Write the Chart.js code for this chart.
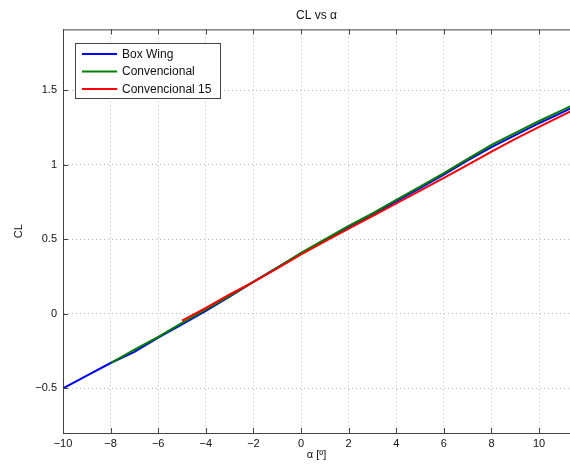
<!DOCTYPE html>
<html>
<head>
<meta charset="utf-8">
<script src="https://cdn.jsdelivr.net/npm/chart.js@4"></script>
<style>
  html, body { margin: 0; padding: 0; background: #fff; }
  #wrap { width: 570px; height: 465px; }
</style>
</head>
<body>
<div id="wrap"><canvas id="clChart" width="570" height="465"></canvas></div>
<script>
// angle of attack [deg]
const alpha = [-10, -9, -8, -7, -6, -5, -4, -3, -2, -1, 0, 1, 2, 3, 4, 5, 6, 7, 8, 9, 10, 11, 12]
const boxWing = [-0.50, -0.415, -0.33, -0.255, -0.16, -0.07, 0.02, 0.115, 0.215, 0.31, 0.405, 0.495, 0.58, 0.665, 0.755, 0.845, 0.935, 1.03, 1.12, 1.20, 1.28, 1.355, 1.43]
const convencional = [null, null, -0.33, -0.24, -0.155, -0.06, 0.03, 0.12, 0.215, 0.31, 0.41, 0.50, 0.59, 0.675, 0.765, 0.855, 0.945, 1.04, 1.135, 1.215, 1.295, 1.37, 1.445]
const convencional15 = [null, null, null, null, null, -0.045, 0.04, 0.13, 0.215, 0.305, 0.40, 0.487, 0.573, 0.657, 0.742, 0.827, 0.913, 1.00, 1.09, 1.175, 1.255, 1.335, 1.41]
const xTicks = [-10, -8, -6, -4, -2, 0, 2, 4, 6, 8, 10]
const yTicks = [-0.5, 0, 0.5, 1, 1.5]

const FONT = '"Liberation Sans", Arial, sans-serif'
const toPts = ys => alpha.map((a, i) => ({x: a, y: ys[i]})).filter(p => p.y !== null)

const series = [
    {label: 'Box Wing', data: boxWing, color: '#0000ff', order: 2},
    {label: 'Convencional', data: convencional, color: '#008000', order: 1},
    {label: 'Convencional 15', data: convencional15, color: '#ff0000', order: 0}
]

// matlab style: inner ticks, top border, legend box in the corner
const matlabBits = {
    id: 'matlabBits',
    afterDraw(chart) {
        const c = chart.ctx
        const a = chart.chartArea
        const xs = chart.scales.x, ys = chart.scales.y
        c.save()
        c.strokeStyle = '#444'
        c.lineWidth = 1
        c.beginPath()
        c.moveTo(a.left, a.top + 0.5); c.lineTo(a.right, a.top + 0.5)
        xTicks.forEach(t => {
            const px = Math.round(xs.getPixelForValue(t)) + 0.5
            c.moveTo(px, a.bottom); c.lineTo(px, a.bottom - 5)
            c.moveTo(px, a.top); c.lineTo(px, a.top + 5)
        })
        yTicks.forEach(t => {
            const py = Math.round(ys.getPixelForValue(t)) + 0.5
            c.moveTo(a.left, py); c.lineTo(a.left + 5, py)
        })
        c.stroke()

        // legend
        const lx = 75.5, ly = 43.5, lw = 145, lh = 55
        c.fillStyle = '#fff'
        c.fillRect(lx, ly, lw, lh)
        c.strokeStyle = '#444'
        c.strokeRect(lx, ly, lw, lh)
        c.font = '12px ' + FONT
        c.textBaseline = 'middle'
        series.forEach((s, i) => {
            const y = 54 + i * 17.5
            c.strokeStyle = s.color
            c.lineWidth = 2
            c.beginPath(); c.moveTo(82, y); c.lineTo(117, y); c.stroke()
            c.fillStyle = '#111'
            c.fillText(s.label, 122, y + 0.5)
        })
        c.restore()
    }
}

const ctx = document.getElementById('clChart')
new Chart(ctx, {
    type: 'line',
    data: {
        datasets: series.map(s => ({
            label: s.label,
            data: toPts(s.data),
            borderColor: s.color,
            backgroundColor: s.color,
            borderWidth: 2,
            pointRadius: 0,
            tension: 0,
            order: s.order
        }))
    },
    options: {
        responsive: false,
        animation: false,
        layout: {padding: 0},
        plugins: {
            legend: {display: false},
            tooltip: {enabled: false},
            title: {
                display: true,
                text: 'CL vs α',
                fullSize: false,
                color: '#111',
                font: {family: FONT, size: 12, weight: 'normal'},
                padding: {top: 8, bottom: 7}
            }
        },
        scales: {
            x: {
                type: 'linear',
                min: -10,
                max: 11.3,
                afterBuildTicks: s => { s.ticks = xTicks.map(v => ({value: v})) },
                afterFit: s => { s.height = 32 },
                ticks: {
                    color: '#111',
                    font: {family: FONT, size: 11},
                    padding: 4,
                    maxRotation: 0,
                    callback: v => String(v).replace('-', '\u2212')
                },
                grid: {color: '#bbb', drawTicks: false, tickLength: 0},
                border: {color: '#444', width: 1, dash: [1, 3]},
                title: {
                    display: true,
                    text: 'α [º]',
                    color: '#111',
                    font: {family: FONT, size: 11},
                    padding: {top: 0, bottom: 3}
                }
            },
            y: {
                type: 'linear',
                min: -0.8,
                max: 1.91,
                afterBuildTicks: s => { s.ticks = yTicks.map(v => ({value: v})) },
                afterFit: s => { s.width = 63 },
                ticks: {
                    color: '#111',
                    font: {family: FONT, size: 11},
                    padding: 6,
                    callback: v => String(v).replace('-', '\u2212')
                },
                grid: {color: '#bbb', drawTicks: false, tickLength: 0},
                border: {color: '#444', width: 1, dash: [1, 3]},
                title: {
                    display: true,
                    text: 'CL',
                    color: '#111',
                    font: {family: FONT, size: 11},
                    padding: {top: 12, bottom: 0}
                }
            }
        }
    },
    plugins: [matlabBits]
})
</script>
</body>
</html>
